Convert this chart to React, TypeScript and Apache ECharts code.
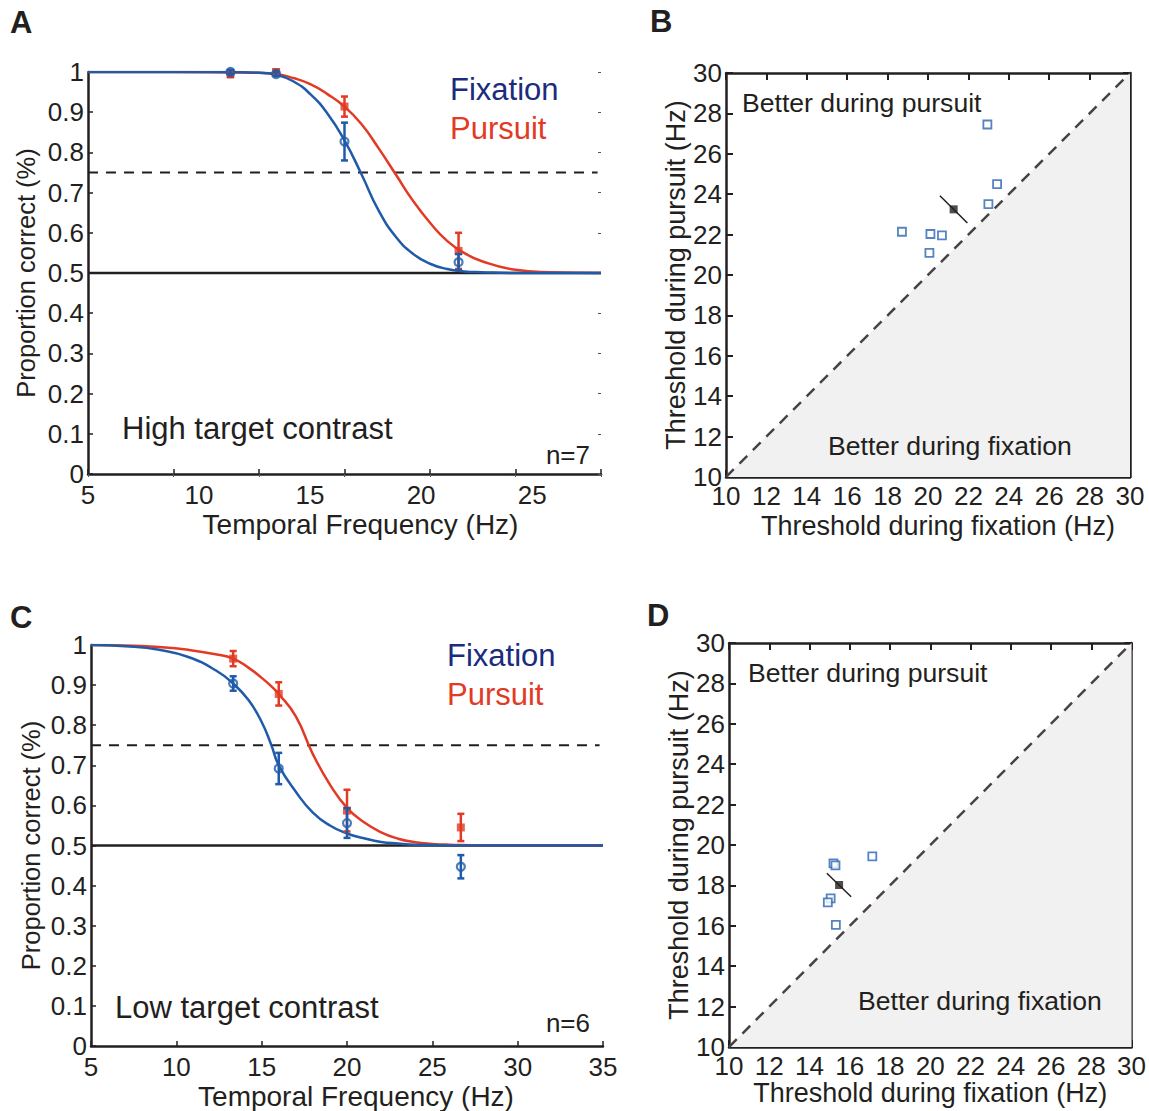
import React, { useEffect, useRef } from "react";
import * as echarts from "echarts";

// ---------- data ----------
const freqs = [13.33, 16, 20, 26.67];

// Panel A (high target contrast)
const hiFixMean = [1.0, 0.995, 0.827, 0.527];
const hiFixErr = [0.005, 0.005, 0.047, 0.02];
const hiPurMean = [0.995, 1.0, 0.914, 0.555];
const hiPurErr = [0.008, 0.006, 0.025, 0.045];
const hiFitX = [5, 10, 13.33, 15, 16, 17, 18, 19, 20, 21, 22, 23, 24, 25, 26, 27, 28, 30, 32, 35];
const hiFixFit = [1, 1, 1, 0.998, 0.993, 0.977, 0.945, 0.897, 0.83, 0.745, 0.655, 0.59, 0.548, 0.523, 0.51, 0.504, 0.502, 0.5, 0.5, 0.5];
const hiPurFit = [1, 1, 0.999, 0.998, 0.995, 0.985, 0.97, 0.945, 0.914, 0.87, 0.81, 0.745, 0.68, 0.625, 0.58, 0.55, 0.53, 0.508, 0.502, 0.5];
const hiTickLabels = [5, 10, 15, 20, 25];

// Panel C (low target contrast)
const loFixMean = [0.904, 0.692, 0.556, 0.447];
const loFixErr = [0.018, 0.039, 0.037, 0.029];
const loPurMean = [0.966, 0.878, 0.587, 0.545];
const loPurErr = [0.019, 0.029, 0.052, 0.034];
const loFitX = [5, 7, 9, 10.7, 12.3, 13.33, 14.24, 15, 15.57, 16, 17, 18, 19, 20, 21, 22, 23, 24, 25, 26, 28, 30, 35];
const loFixFit = [1, 0.997, 0.988, 0.97, 0.937, 0.904, 0.862, 0.808, 0.75, 0.7, 0.634, 0.582, 0.55, 0.53, 0.518, 0.509, 0.505, 0.502, 0.501, 0.5, 0.5, 0.5, 0.5];
const loPurFit = [1, 0.999, 0.995, 0.988, 0.977, 0.966, 0.943, 0.918, 0.897, 0.878, 0.822, 0.728, 0.652, 0.594, 0.558, 0.533, 0.517, 0.508, 0.504, 0.502, 0.5, 0.5, 0.5];

// Panel B thresholds (high contrast)
const hiFixThr = [22.94, 23.42, 22.99, 18.71, 20.12, 20.69, 20.07];
const hiPurThr = [27.45, 24.5, 23.51, 22.14, 22.03, 21.96, 21.1];
const hiMean = [21.27, 23.25];
const hiMeanErr = [[20.59, 23.92], [21.95, 22.57]];

// Panel D thresholds (low contrast)
const loFixThr = [15.19, 15.29, 17.12, 15.05, 14.91, 15.31];
const loPurThr = [19.09, 18.99, 19.44, 17.36, 17.16, 16.05];
const loMean = [15.47, 18.02];
const loMeanErr = [[14.86, 18.6], [16.07, 17.44]];

const chanceLevel = 0.5;
const thresholdLevel = 0.75;

// ---------- styles ----------
const FONT = "'Liberation Sans', Arial, Helvetica, sans-serif";
const INK = "#231f20";
const BLUE = "#1f5ba8";
const RED = "#e23a24";
const NAVY = "#1b2b7d";
const SQ = "#2a65b0";

function errRender(color: string) {
  return (params: any, api: any) => {
    const x = api.value(0);
    const lo = api.value(1);
    const hi = api.value(2);
    const p1 = api.coord([x, lo]);
    const p2 = api.coord([x, hi]);
    const w = 3.5;
    const st = { stroke: color, lineWidth: 2.5 };
    return {
      type: "group",
      children: [
        { type: "line", shape: { x1: p1[0], y1: p1[1], x2: p2[0], y2: p2[1] }, style: st },
        { type: "line", shape: { x1: p1[0] - w, y1: p1[1], x2: p1[0] + w, y2: p1[1] }, style: st },
        { type: "line", shape: { x1: p2[0] - w, y1: p2[1], x2: p2[0] + w, y2: p2[1] }, style: st },
      ],
    };
  };
}

const tickLabel = { color: INK, fontSize: 26, fontFamily: FONT };
const nameStyle = { color: INK, fontSize: 27, fontFamily: FONT };

function psychSeries(xi: number, yi: number, fitX: number[], fixFit: number[], purFit: number[],
  fixMean: number[], fixErr: number[], purMean: number[], purErr: number[]) {
  const base = { xAxisIndex: xi, yAxisIndex: yi };
  return [
    {
      ...base, type: "line", data: [[5, chanceLevel], [35, chanceLevel]], symbol: "none",
      lineStyle: { color: INK, width: 2.5 }, silent: true, z: 2,
    },
    {
      ...base, type: "line", data: [[5, thresholdLevel], [34.8, thresholdLevel]], symbol: "none",
      lineStyle: { color: INK, width: 2, type: [10, 8] }, silent: true, z: 2,
    },
    {
      ...base, type: "line", data: fitX.map((x, i) => [x, purFit[i]]), symbol: "none",
      smooth: 0.5, lineStyle: { color: RED, width: 2.5 }, z: 3,
    },
    {
      ...base, type: "line", data: fitX.map((x, i) => [x, fixFit[i]]), symbol: "none",
      smooth: 0.5, lineStyle: { color: BLUE, width: 2.5 }, z: 3,
    },
    {
      ...base, type: "custom", renderItem: errRender(RED), encode: { x: 0, y: [1, 2] },
      data: freqs.map((f, i) => [f, purMean[i] - purErr[i], purMean[i] + purErr[i]]), z: 4, clip: false,
    },
    {
      ...base, type: "scatter", data: freqs.map((f, i) => [f, purMean[i]]), symbol: "rect", symbolSize: 8,
      itemStyle: { color: RED }, z: 5,
    },
    {
      ...base, type: "custom", renderItem: errRender(BLUE), encode: { x: 0, y: [1, 2] },
      data: freqs.map((f, i) => [f, fixMean[i] - fixErr[i], fixMean[i] + fixErr[i]]), z: 6, clip: false,
    },
    {
      ...base, type: "scatter", data: freqs.map((f, i) => [f, fixMean[i]]), symbol: "circle", symbolSize: 8,
      itemStyle: { color: "rgba(255,255,255,0)", borderColor: BLUE, borderWidth: 2.2 }, z: 7,
    },
  ];
}

function scatterSeries(xi: number, yi: number, fx: number[], py: number[], mean: number[], merr: number[][]) {
  const base = { xAxisIndex: xi, yAxisIndex: yi };
  return [
    {
      ...base, type: "line", data: [[10, 10], [30, 30]], symbol: "none",
      lineStyle: { color: "#4a4343", width: 2.5, type: [11, 8] },
      areaStyle: { color: "#f1f1f1", opacity: 1, origin: "start" }, silent: true, z: 1,
    },
    {
      ...base, type: "scatter", data: fx.map((x, i) => [x, py[i]]), symbol: "rect", symbolSize: 8,
      itemStyle: { color: "#ffffff", borderColor: SQ, borderWidth: 1.8 }, z: 4,
    },
    {
      ...base, type: "line", data: merr, symbol: "none", lineStyle: { color: INK, width: 1.5 }, z: 5,
    },
    {
      ...base, type: "scatter", data: [mean], symbol: "rect", symbolSize: 8,
      itemStyle: { color: INK }, z: 6,
    },
  ];
}

function boxAxesX(gi: number, name: string, nameGap: number, shift: number) {
  return [
    {
      gridIndex: gi, type: "value", position: "bottom", min: 10, max: 30, interval: 2,
      axisLine: { show: true, onZero: false, lineStyle: { color: INK, width: 2.5 } },
      axisTick: { show: true, inside: true, length: 7, lineStyle: { color: INK, width: 2 } },
      axisLabel: { show: true, ...tickLabel, margin: 6 },
      splitLine: { show: false },
      name, nameLocation: "middle", nameGap,
      nameTextStyle: { ...nameStyle, padding: [0, 0, 0, shift] },
    },
    {
      gridIndex: gi, type: "value", position: "top", min: 10, max: 30, interval: 2,
      axisLine: { show: true, onZero: false, lineStyle: { color: INK, width: 2.5 } },
      axisTick: { show: true, inside: true, length: 7, lineStyle: { color: INK, width: 2 } },
      axisLabel: { show: false }, splitLine: { show: false },
    },
  ];
}
function boxAxesY(gi: number, name: string, nameGap: number) {
  return [
    {
      gridIndex: gi, type: "value", position: "left", min: 10, max: 30, interval: 2,
      axisLine: { show: true, onZero: false, lineStyle: { color: INK, width: 2.5 } },
      axisTick: { show: true, inside: true, length: 7, lineStyle: { color: INK, width: 2 } },
      axisLabel: { show: true, ...tickLabel, margin: 4 },
      splitLine: { show: false },
      name, nameLocation: "middle", nameGap, nameTextStyle: nameStyle,
    },
    {
      gridIndex: gi, type: "value", position: "right", min: 10, max: 30, interval: 2,
      axisLine: { show: true, onZero: false, lineStyle: { color: INK, width: 2.5 } },
      axisTick: { show: true, inside: true, length: 7, lineStyle: { color: INK, width: 2 } },
      axisLabel: { show: false }, splitLine: { show: false },
    },
  ];
}

const fmtProp = (v: number) => String(Math.round(v * 10) / 10);

function txt(x: number, y: number, text: string, opts: any = {}) {
  return {
    type: "text", x, y, z: 100, zlevel: 0, silent: true,
    style: {
      text, fill: opts.fill || INK, font: `${opts.bold ? "bold " : ""}${opts.size || 26}px ${FONT}`,
      textAlign: opts.align || "left", textVerticalAlign: "middle",
      align: opts.align || "left", verticalAlign: "middle",
    },
  };
}

export default function App() {
  const ref = useRef<HTMLDivElement>(null);
  useEffect(() => {
    if (!ref.current) return;
    const chart = echarts.init(ref.current, undefined, { renderer: "svg" });
    const option: any = {
      animation: false,
      backgroundColor: "#ffffff",
      textStyle: { fontFamily: FONT },
      grid: [
        { left: 88, top: 72, width: 513, height: 402 },   // A
        { left: 726, top: 73, width: 404, height: 404 },  // B
        { left: 91, top: 645, width: 512, height: 404 },  // C
        { left: 729, top: 643, width: 404, height: 404 }, // D
      ],
      xAxis: [
        // 0: A data scale
        {
          gridIndex: 0, type: "value", position: "bottom", min: 5, max: 35, interval: 5,
          axisLine: { show: true, onZero: false, lineStyle: { color: INK, width: 2.5 } },
          axisTick: { show: true, inside: true, length: 5, lineStyle: { color: INK, width: 1.5 } },
          axisLabel: { show: false }, splitLine: { show: false },
        },
        // 1: A printed labels
        {
          gridIndex: 0, type: "value", position: "bottom", min: 5, max: 28.1, interval: 5,
          axisLine: { show: false }, axisTick: { show: false }, splitLine: { show: false },
          axisLabel: {
            show: true, ...tickLabel, margin: 8,
            formatter: (v: number) => (hiTickLabels.includes(Math.round(v * 100) / 100) ? String(v) : ""),
          },
          name: "Temporal Frequency (Hz)", nameLocation: "middle", nameGap: 36,
          nameTextStyle: { ...nameStyle, fontSize: 28, padding: [0, 0, 0, 32] },
        },
        // 2: A top ticks
        {
          gridIndex: 0, type: "value", position: "top", min: 5, max: 35, interval: 5,
          axisLine: { show: false }, axisLabel: { show: false }, splitLine: { show: false },
          axisTick: { show: true, inside: true, length: 3, lineStyle: { color: "#555", width: 1 } },
        },
        // 3: C
        {
          gridIndex: 2, type: "value", position: "bottom", min: 5, max: 35, interval: 5,
          axisLine: { show: true, onZero: false, lineStyle: { color: INK, width: 2.5 } },
          axisTick: { show: true, inside: true, length: 5, lineStyle: { color: INK, width: 1.5 } },
          axisLabel: { show: true, ...tickLabel, margin: 8 }, splitLine: { show: false },
          name: "Temporal Frequency (Hz)", nameLocation: "middle", nameGap: 36,
          nameTextStyle: { ...nameStyle, fontSize: 28, padding: [0, 0, 0, 18] },
        },
        // 4,5: B
        ...boxAxesX(1, "Threshold during fixation (Hz)", 35, 20),
        // 6,7: D
        ...boxAxesX(3, "Threshold during fixation (Hz)", 30, 0),
      ],
      yAxis: [
        // 0: A
        {
          gridIndex: 0, type: "value", position: "left", min: 0, max: 1, interval: 0.1,
          axisLine: { show: true, onZero: false, lineStyle: { color: INK, width: 2.5 } },
          axisTick: { show: true, inside: true, length: 5, lineStyle: { color: INK, width: 1.5 } },
          axisLabel: { show: true, ...tickLabel, margin: 4, formatter: fmtProp }, splitLine: { show: false },
          name: "Proportion correct (%)", nameLocation: "middle", nameGap: 49,
          nameTextStyle: { ...nameStyle, fontSize: 25.5 },
        },
        // 1: A right ticks
        {
          gridIndex: 0, type: "value", position: "right", min: 0, max: 1, interval: 0.1,
          axisLine: { show: false }, axisLabel: { show: false }, splitLine: { show: false },
          axisTick: { show: true, inside: true, length: 3, lineStyle: { color: "#555", width: 1 } },
        },
        // 2: C
        {
          gridIndex: 2, type: "value", position: "left", min: 0, max: 1, interval: 0.1,
          axisLine: { show: true, onZero: false, lineStyle: { color: INK, width: 2.5 } },
          axisTick: { show: true, inside: true, length: 5, lineStyle: { color: INK, width: 1.5 } },
          axisLabel: { show: true, ...tickLabel, margin: 4, formatter: fmtProp }, splitLine: { show: false },
          name: "Proportion correct (%)", nameLocation: "middle", nameGap: 47,
          nameTextStyle: { ...nameStyle, fontSize: 25.5 },
        },
        // 3,4: B
        ...boxAxesY(1, "Threshold during pursuit (Hz)", 36),
        // 5,6: D
        ...boxAxesY(3, "Threshold during pursuit (Hz)", 36),
      ],
      series: [
        ...psychSeries(0, 0, hiFitX, hiFixFit, hiPurFit, hiFixMean, hiFixErr, hiPurMean, hiPurErr),
        ...psychSeries(3, 2, loFitX, loFixFit, loPurFit, loFixMean, loFixErr, loPurMean, loPurErr),
        ...scatterSeries(4, 3, hiFixThr, hiPurThr, hiMean, hiMeanErr),
        ...scatterSeries(6, 5, loFixThr, loPurThr, loMean, loMeanErr),
      ],
      graphic: {
        elements: [
          txt(10, 22, "A", { bold: true, size: 31 }),
          txt(650, 21, "B", { bold: true, size: 31 }),
          txt(10, 617, "C", { bold: true, size: 31 }),
          txt(647, 615, "D", { bold: true, size: 31 }),
          txt(450, 89, "Fixation", { size: 31, fill: NAVY }),
          txt(450, 128, "Pursuit", { size: 31, fill: RED }),
          txt(122, 428, "High target contrast", { size: 31 }),
          txt(590, 455, "n=7", { size: 26, align: "right" }),
          txt(447, 655, "Fixation", { size: 31, fill: NAVY }),
          txt(447, 694, "Pursuit", { size: 31, fill: RED }),
          txt(115, 1007, "Low target contrast", { size: 31 }),
          txt(590, 1023, "n=6", { size: 26, align: "right" }),
          txt(742, 103, "Better during pursuit", { size: 26.6 }),
          txt(828, 446, "Better during fixation", { size: 26.6 }),
          txt(748, 673, "Better during pursuit", { size: 26.6 }),
          txt(858, 1001, "Better during fixation", { size: 26.6 }),
        ],
      },
    };
    chart.setOption(option);
    return () => chart.dispose();
  }, []);
  return (
    <div
      ref={ref}
      style={{ position: "absolute", left: 0, top: 0, width: 1149, height: 1111, background: "#fff" }}
    />
  );
}
